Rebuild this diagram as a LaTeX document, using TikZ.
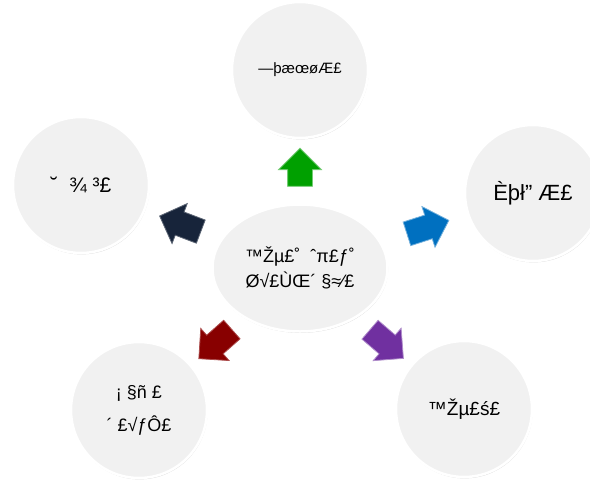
\documentclass[tikz,border=0pt]{standalone}
\usepackage{fontspec}
\setmainfont{Liberation Sans}
\usetikzlibrary{shapes.geometric,shapes.arrows,shadows}
\definecolor{circfill}{RGB}{241,241,241}
\definecolor{agreen}{RGB}{0,160,0}
\definecolor{ablue}{RGB}{0,112,192}
\definecolor{anavy}{RGB}{23,36,58}
\definecolor{ared}{RGB}{136,0,0}
\definecolor{apurple}{RGB}{112,48,160}
\begin{document}
\begin{tikzpicture}[x=1pt,y=-1pt,
  bub/.style={circle, minimum size=136pt, inner sep=0pt, fill=circfill,
    draw=white, line width=2.5pt, align=center,
    drop shadow={shadow xshift=0.6pt, shadow yshift=-1.4pt, opacity=0.3}},
  hub/.style={ellipse, minimum width=175pt, minimum height=127pt, inner sep=0pt,
    fill=circfill, draw=white, line width=2.5pt, align=center,
    drop shadow={shadow xshift=0.6pt, shadow yshift=-1.4pt, opacity=0.3}},
  arr/.style={single arrow, minimum height=44pt, text height=12pt, text depth=12pt,
    text width=0pt, single arrow head extend=9pt, inner sep=0pt, line width=0.8pt}]
\useasboundingbox (0,0) rectangle (590,483);
\clip (0,0) rectangle (590,483);

\node[hub, font=\fontsize{18}{25}\selectfont] (c) at (300,268)
  {™Žµ£˚ \ ˆπ£ƒ˚\\ Ø√£ÙŒ´ §≈⁄£};

\node[bub, font=\fontsize{15}{18}\selectfont] (t) at (300,70) {—þæœøÆ£};
\node[bub, font=\fontsize{21}{24}\selectfont] (l) at (81,185) {˘ \ ¾ ³£};
\node[bub, font=\fontsize{22}{25}\selectfont] (r) at (533,193) {Èþł” Æ£};
\node[bub, font=\fontsize{18}{33}\selectfont] (bl) at (139,410) {¡ §ñ £\\´ £√ƒÔ£};
\node[bub, font=\fontsize{19}{22}\selectfont] (br) at (464,409) {™Žµ£ś£};

\node[arr, fill=agreen, draw=agreen!55!white, rotate=90, minimum height=38pt] (ag) at (300,173.5) {};
\node[arr, fill=ablue, draw=ablue!55!white, rotate=17.8] (ab) at (422,229) {};
\node[arr, fill=anavy, draw=anavy!70!white, rotate=159.2] (an) at (186,226) {};
\node[arr, fill=ared, draw=ared!70!white, rotate=221.4] (ar) at (220,340) {};
\node[arr, fill=apurple, draw=apurple!55!white, rotate=319.3] (ap) at (382,340) {};
\end{tikzpicture}
\end{document}
